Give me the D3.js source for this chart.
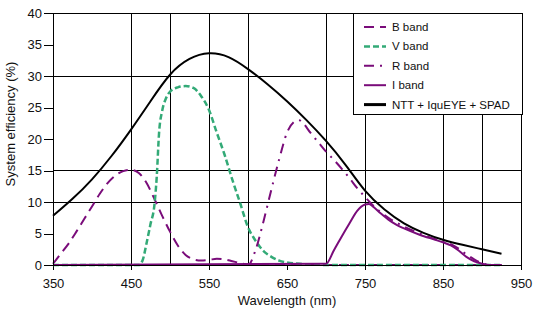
<!DOCTYPE html>
<html>
<head>
<meta charset="utf-8">
<script src="https://cdn.jsdelivr.net/npm/d3@7"></script>
<style>
	body { margin: 0; background: #fff; }
	svg { display: block; font-family: "Liberation Sans", Arial, sans-serif; }
</style>
</head>
<body>
<svg></svg>
<script>
var width = 544;
var height = 318;
var margin = {top: 13, right: 20, bottom: 53, left: 53};

// wavelength (nm) / efficiency (%) pairs
var bandB = [[350,0.2],[360,1.8],[370,3.4],[380,5.3],[390,7.3],[400,9.3],[410,11.3],[420,13],[430,14.2],[440,14.9],[450,15.1],[460,14.6],[470,13],[480,10.5],[490,7.8],[500,5.3],[510,3.1],[520,1.6],[530,0.9],[540,0.7],[550,0.8],[560,1],[570,0.9],[580,0.6],[590,0.3],[600,0.05],[610,0],[925,0]];
var bandV = [[350,0],[460,0],[465,0.8],[470,3.5],[475,6.5],[480,9.5],[483,14],[486,21],[490,24.5],[495,26.5],[500,27.5],[510,28.2],[520,28.4],[530,28.1],[540,26.8],[550,24.6],[560,21],[570,17.5],[580,13.5],[590,9.8],[600,6],[610,3.8],[620,2.2],[630,1.3],[640,0.7],[650,0.4],[670,0.15],[690,0.05],[700,0],[925,0]];
var bandR = [[350,0],[600,0],[610,2.5],[620,7],[630,12],[640,16.8],[650,21],[660,22.8],[665,23],[670,22.6],[680,21],[690,19.5],[700,18],[710,16.7],[720,15.3],[730,13.8],[740,12.2],[750,10.8],[760,9.5],[770,8.4],[780,7.5],[800,6.1],[820,5],[840,4.1],[860,3.3],[870,2.6],[880,1.7],[890,0.9],[900,0.3],[910,0],[925,0]];
var bandI = [[350,0],[700,0.2],[710,2.3],[720,4.5],[730,6.6],[740,8.6],[750,9.6],[755,9.7],[760,9.3],[770,8.2],[780,7.2],[790,6.4],[800,5.8],[820,4.8],[840,4],[850,3.6],[860,3.1],[870,2.3],[880,1.3],[890,0.6],[900,0.2],[910,0],[925,0]];
var system = [[350,7.8],[375,10.5],[400,13.6],[425,17.3],[450,21.5],[475,26],[500,30.2],[525,32.7],[550,33.6],[575,33],[600,31.1],[625,28.7],[650,26],[675,23],[700,19.7],[725,15.9],[750,11.8],[775,8.8],[800,6.6],[825,5.1],[850,4],[875,3.2],[900,2.5],[925,1.8]];

var seriesNames = ["B band", "V band", "R band", "I band", "NTT + IquEYE + SPAD"];
var xTicks = [350, 450, 550, 650, 750, 850, 950];
var yTicks = [0, 5, 10, 15, 20, 25, 30, 35, 40];
var xGrid = [450, 500, 550, 600, 700, 750, 850, 900];
var yGrid = [10, 15, 30];

var series = [
	{name: seriesNames[0], data: bandB, color: "#7a0c7a", width: 2, dash: "10,6", curve: d3.curveMonotoneX},
	{name: seriesNames[1], data: bandV, color: "#33aa77", width: 2.5, dash: "6,3", curve: d3.curveMonotoneX},
	{name: seriesNames[2], data: bandR, color: "#7a0c7a", width: 2, dash: "10,6,2,6", curve: d3.curveMonotoneX},
	{name: seriesNames[3], data: bandI, color: "#7a0c7a", width: 2, dash: null, curve: d3.curveMonotoneX},
	{name: seriesNames[4], data: system, color: "#000", width: 2, dash: null, curve: d3.curveNatural}
];

var svg = d3.select("svg")
	.attr("width", width)
	.attr("height", height);

var xScale = d3.scaleLinear()
	.domain([350, 950])
	.range([margin.left, width - margin.right - 3]);

var yScale = d3.scaleLinear()
	.domain([0, 40])
	.range([height - margin.bottom, margin.top]);

// grid
svg.append("g")
	.selectAll("line")
	.data(xGrid)
	.enter()
	.append("line")
	.attr("x1", d => xScale(d))
	.attr("x2", d => xScale(d))
	.attr("y1", yScale(0))
	.attr("y2", yScale(40))
	.attr("stroke", "#000")
	.attr("shape-rendering", "crispEdges");

svg.append("g")
	.selectAll("line")
	.data(yGrid)
	.enter()
	.append("line")
	.attr("x1", xScale(350))
	.attr("x2", xScale(950))
	.attr("y1", d => yScale(d))
	.attr("y2", d => yScale(d))
	.attr("stroke", "#000")
	.attr("shape-rendering", "crispEdges");

// axes
svg.append("g")
	.attr("transform", `translate(0, ${yScale(0)})`)
	.call(d3.axisBottom(xScale)
		.tickValues(xTicks)
		.tickSize(5)
		.tickPadding(9)
		.tickFormat(d3.format("d")))
	.call(g => g.select(".domain").remove())
	.call(g => g.selectAll("line").attr("shape-rendering", "crispEdges"))
	.selectAll("text")
		.style("font-size", "13px")
		.attr("fill", "#111");

svg.append("g")
	.attr("transform", `translate(${xScale(350)}, 0)`)
	.call(d3.axisLeft(yScale)
		.tickValues(yTicks)
		.tickSize(9)
		.tickPadding(2))
	.call(g => g.select(".domain").remove())
	.call(g => g.selectAll("line").attr("shape-rendering", "crispEdges"))
	.selectAll("text")
		.style("font-size", "13px")
		.attr("fill", "#111");

// curves
svg.append("g")
	.selectAll("path")
	.data(series)
	.enter()
	.append("path")
	.attr("d", d => d3.line()
		.x(p => xScale(p[0]))
		.y(p => yScale(p[1]))
		.curve(d.curve)(d.data))
	.attr("fill", "none")
	.attr("stroke", d => d.color)
	.attr("stroke-width", d => d.width)
	.attr("stroke-dasharray", d => d.dash);

// frame
svg.append("rect")
	.attr("x", xScale(350))
	.attr("y", yScale(40))
	.attr("width", xScale(950) - xScale(350))
	.attr("height", yScale(0) - yScale(40))
	.attr("fill", "none")
	.attr("stroke", "#000")
	.attr("shape-rendering", "crispEdges");

// legend
var legend = svg.append("g")
	.attr("transform", "translate(353, 13)");

legend.append("rect")
	.attr("width", 169)
	.attr("height", 101)
	.attr("fill", "#fff")
	.attr("stroke", "#000")
	.attr("shape-rendering", "crispEdges");

var item = legend.selectAll(".item")
	.data(series)
	.enter()
	.append("g")
	.classed("item", true)
	.attr("transform", (d, i) => `translate(0, ${14 + i * 19.4})`);

item.append("line")
	.attr("x1", 11)
	.attr("x2", 33)
	.attr("stroke", d => d.color)
	.attr("stroke-width", (d, i) => i == 4 ? 3 : d.width)
	.attr("stroke-dasharray", d => d.dash);

item.append("text")
	.attr("x", 39)
	.attr("dy", "0.35em")
	.style("font-size", "11.5px")
	.attr("fill", "#111")
	.text(d => d.name);

// axis titles
svg.append("text")
	.attr("x", (xScale(350) + xScale(950)) / 2)
	.attr("y", 305)
	.style("text-anchor", "middle")
	.style("font-size", "13px")
	.attr("fill", "#111")
	.text("Wavelength (nm)");

svg.append("text")
	.attr("transform", "rotate(-90)")
	.attr("x", -124)
	.attr("y", 15)
	.style("text-anchor", "middle")
	.style("font-size", "13px")
	.attr("fill", "#111")
	.text("System efficiency (%)");
</script>
</body>
</html>
